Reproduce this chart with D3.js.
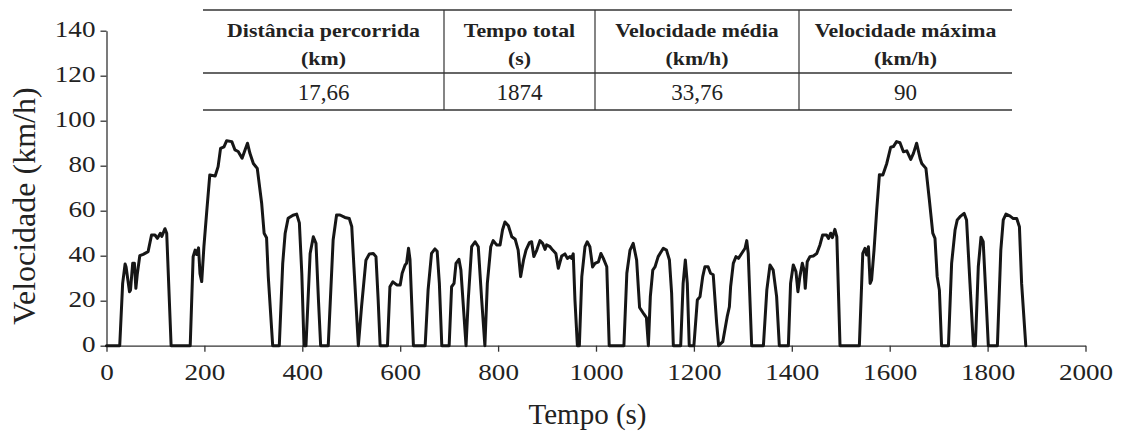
<!DOCTYPE html>
<html>
<head>
<meta charset="utf-8">
<script src="https://cdn.jsdelivr.net/npm/d3@7"></script>
<style>
  body { margin: 0; background: #fff; }
  svg { display: block; }
</style>
</head>
<body>
<div id="chart-area"></div>
<script>
// tempo (s) and velocidade (km/h)
var tempo = [0, 27, 33, 38, 40, 47, 49, 53.5, 57, 60, 63, 68, 75, 85, 92, 99, 104, 110, 113, 119.5, 123, 132,
  171, 177, 181, 184, 188, 191, 194.5, 199, 205, 211, 222, 228, 233, 240, 245.5, 256, 262.5, 269, 277, 283, 288, 293, 300, 308, 317, 322, 327, 330.5, 339.5,
  353, 360, 365, 371, 381, 388.5, 394, 399, 403.5, 407.5, 416, 422.5, 428, 433, 437.5,
  453, 463, 470, 477, 487, 496, 501, 505.5, 514.5, 521, 530, 537, 545, 550.5, 555, 559,
  574, 579, 585, 593, 600, 604, 610, 613, 617, 620, 627,
  651, 657, 664, 671, 675.5, 680, 685, 700, 705, 710, 714, 720, 724, 734.5, 739, 746, 753, 759.5, 766.5, 773,
  778, 785, 790, 797, 804, 809, 814, 821, 828, 835, 841, 846, 852, 857, 864, 868.5, 873, 879, 885.5, 891, 896, 899, 906, 911.5, 918, 923, 930, 936.5, 941.5, 947, 950, 953.5, 957, 962,
  966, 971, 977.5, 982, 987.5, 993, 998, 1005, 1010, 1015, 1022, 1027,
  1057, 1063, 1069.5, 1076, 1083, 1089, 1098, 1103, 1107, 1111, 1116, 1120.5, 1127, 1137.5, 1144, 1150, 1154.5, 1158,
  1173, 1178, 1182.5, 1186.5, 1190.5, 1200, 1207, 1212.5, 1218, 1222.5, 1229, 1234, 1239.5, 1246.5, 1250.5, 1259, 1268, 1272.5, 1275, 1280.5, 1286, 1291, 1297.5, 1304.5, 1308, 1311, 1318,
  1342, 1349, 1355.5, 1362, 1369, 1374.5, 1393, 1397.5, 1403, 1408.5, 1412.5, 1416.5, 1421.5, 1425, 1427.5, 1431.5, 1437, 1444, 1451, 1457.5, 1463, 1471, 1475, 1479.5, 1483, 1488, 1492, 1498.5,
  1538, 1545, 1549.5, 1553, 1556.5, 1560, 1563, 1568, 1573.5, 1579, 1586, 1594, 1602, 1607.5, 1614, 1621, 1628, 1635, 1643, 1648.5, 1655, 1662, 1665.5, 1674, 1681, 1688, 1692.5, 1697, 1701.5, 1706,
  1720, 1726.5, 1733.5, 1738, 1745, 1752, 1757, 1764, 1771, 1775, 1781, 1786.5, 1791, 1797, 1801.5,
  1820, 1827, 1832, 1837.5, 1846, 1852.5, 1859.5, 1865, 1869.5, 1878];

var velocidade = [0, 0, 27.7, 36.3, 35, 24, 24.7, 36.6, 36.6, 25.5, 32, 40, 40.6, 41.8, 49.2, 49.2, 47.7, 50, 48.6, 52, 50, 0,
  0, 39.6, 42.5, 40.5, 43.5, 32, 28.5, 44, 60.3, 75.9, 75.4, 79.6, 87.7, 88.4, 91.1, 90.7, 87, 86.3, 83.3, 87, 90, 85.5, 81, 78.8, 63.3, 50, 48, 30.7, 0,
  0, 36.6, 50, 56.6, 58, 58.5, 54.6, 32, 0, 0, 41, 48.4, 45.5, 20.3, 0,
  0, 47, 58.1, 58.1, 57, 56.5, 53, 35, 0, 17.3, 38, 40.8, 41, 39.6, 20.3, 0,
  0, 26.2, 28.4, 27, 27, 32.2, 35.9, 36.6, 43.3, 38.3, 0,
  0, 24.8, 41, 43, 42, 27.7, 0, 0, 26.2, 27.7, 36.6, 38.4, 33.6, 0, 20.3, 44, 46.2, 44, 20.3, 0,
  27.7, 44, 46.7, 44.8, 44.8, 51.4, 55, 53.3, 48.4, 47.3, 42.5, 30.7, 38.1, 42.5, 45.8, 46.2, 39.6, 42.5, 46.7, 45.5, 42.8, 44.8, 44, 42.5, 41, 34.4, 39.9, 40.8, 38.8, 39.6, 38.8, 40.8, 20.3, 0,
  0, 30.7, 44, 46.2, 44, 35, 36.6, 37.3, 41, 38.8, 35.1, 0,
  0, 32.2, 42.5, 45.5, 38.1, 17, 14, 12.5, 0, 21.8, 33.6, 35, 39.6, 43.3, 42.5, 38.1, 23.3, 0,
  0, 27.7, 38.1, 27.7, 0, 0, 20.3, 21.8, 30.7, 35.1, 35.1, 32.2, 31.5, 10, 0, 1.8, 12.9, 17.3, 26.2, 36.6, 39.6, 38.8, 41, 43.3, 46.7, 41, 0,
  0, 24.8, 35.9, 33.6, 21.8, 0, 0, 27.7, 35.9, 32.9, 24, 30.7, 36.6, 33.6, 25.5, 37.3, 39.6, 39.9, 41, 44.8, 49.2, 49.2, 47.7, 50, 48, 51.7, 48.4, 0,
  0, 41, 43.3, 40.3, 44, 27.7, 29.2, 42.5, 60.3, 76, 75.9, 81, 88.2, 88.5, 90.7, 90.2, 86.2, 86.6, 82.8, 85.5, 90, 83.3, 81, 78.8, 64.8, 50, 47.7, 30.7, 24.7, 0,
  0, 36.6, 51.4, 55.9, 57.6, 58.8, 55.9, 27.7, 0, 0, 35.1, 48.2, 46.2, 20.3, 0,
  0, 42.5, 55.9, 58.5, 57.6, 56.5, 56.5, 52.9, 27.7, 0];

var xTicks = [0, 200, 400, 600, 800, 1000, 1200, 1400, 1600, 1800, 2000];
var yTicks = [0, 20, 40, 60, 80, 100, 120, 140];

var tableHeaders = [["Distância percorrida", "(km)"], ["Tempo total", "(s)"],
  ["Velocidade média", "(km/h)"], ["Velocidade máxima", "(km/h)"]];
var tableValues = ["17,66", "1874", "33,76", "90"];

var data = tempo.map(function (t, i) { return { t: t, v: velocidade[i] } });

var width = 1122, height = 432;
var stretch = 1.18; // the figure's lettering is a bit wide
var serif = "'Liberation Serif', 'Times New Roman', Tinos, 'Nimbus Roman', 'DejaVu Serif', serif"

var svg = d3.select("#chart-area").append("svg")
  .attr("width", width)
  .attr("height", height)
  .style("font-family", serif)

svg.append("rect").attr("width", width).attr("height", height).attr("fill", "#fff")

var x = d3.scaleLinear().domain([0, 2000]).range([106.5, 1085.5])
var y = d3.scaleLinear().domain([0, 140]).range([345.7, 30.7])

// axes
var xAxis = svg.append("g")
  .attr("transform", "translate(0," + y(0) + ")")
  .call(d3.axisBottom(x).tickValues(xTicks).tickSize(6).tickSizeOuter(0).tickFormat(d3.format("d")))

var yAxis = svg.append("g")
  .attr("transform", "translate(" + x(0) + ",0)")
  .call(d3.axisLeft(y).tickValues(yTicks).tickSize(6).tickSizeOuter(0).tickFormat(d3.format("d")))

svg.selectAll(".domain, .tick line").attr("stroke", "#333").attr("stroke-width", 1.3)

xAxis.selectAll("text")
  .attr("y", 34).attr("dy", null)
  .attr("transform", "scale(" + stretch + ",1)")
  .style("font-family", serif)
  .style("font-size", "23px").attr("fill", "#222")

yAxis.selectAll("text")
  .attr("x", 0).attr("dy", "0.27em")
  .attr("transform", "translate(-11,0) scale(" + stretch + ",1)")
  .style("font-family", serif)
  .style("font-size", "23px").attr("fill", "#222")

// axis titles
svg.append("text")
  .attr("x", 587.5).attr("y", 424)
  .attr("text-anchor", "middle")
  .style("font-family", serif)
  .style("font-size", "29px")
  .attr("fill", "#222")
  .text("Tempo (s)")

svg.append("text")
  .attr("transform", "translate(35,206) rotate(-90)")
  .attr("text-anchor", "middle")
  .style("font-family", serif)
  .style("font-size", "32px")
  .attr("fill", "#222")
  .text("Velocidade (km/h)")

// speed trace
var line = d3.line()
  .x(function (d) { return x(d.t) })
  .y(function (d) { return y(d.v) })

svg.append("path")
  .datum(data)
  .attr("d", line)
  .attr("fill", "none")
  .attr("stroke", "#161616")
  .attr("stroke-width", 3)
  .attr("stroke-linejoin", "round")
  .attr("stroke-linecap", "round")

// summary table
var colEdges = [203, 444, 595, 799, 1012];
var table = svg.append("g")
var lineColor = "#333"

;[10, 73, 110].forEach(function (yy) {
  table.append("line")
    .attr("x1", colEdges[0]).attr("x2", colEdges[4])
    .attr("y1", yy).attr("y2", yy)
    .attr("stroke", lineColor).attr("stroke-width", 1.4)
})
colEdges.slice(1, 4).forEach(function (xx) {
  table.append("line")
    .attr("x1", xx).attr("x2", xx)
    .attr("y1", 10).attr("y2", 110)
    .attr("stroke", lineColor).attr("stroke-width", 1.2)
})

tableHeaders.forEach(function (h, i) {
  var cx = (colEdges[i] + colEdges[i + 1]) / 2
  h.forEach(function (txt, j) {
    table.append("text")
      .attr("transform", "translate(" + cx + "," + (37 + j * 27.5) + ") scale(" + stretch + ",1)")
      .attr("text-anchor", "middle")
      .style("font-family", serif)
      .style("font-size", "18.5px")
      .style("font-weight", "bold")
      .attr("fill", "#222")
      .text(txt)
  })
  table.append("text")
    .attr("transform", "translate(" + cx + ",100)")
    .attr("text-anchor", "middle")
    .style("font-family", serif)
    .style("font-size", "23px")
    .attr("fill", "#222")
    .text(tableValues[i])
})
</script>
</body>
</html>
